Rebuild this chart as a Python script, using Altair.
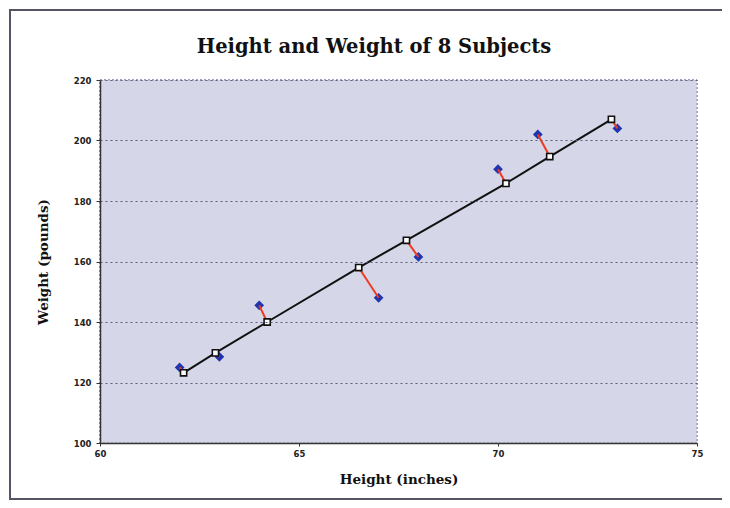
import altair as alt
import pandas as pd

# Observed subjects
height = [62, 63, 64, 67, 68, 70, 71, 73]
weight = [125, 128.5, 145.5, 148, 161.5, 190.5, 202, 204]
# Points on the fitted line that each subject is joined to
line_h = [62.1, 62.9, 64.2, 66.5, 67.7, 70.2, 71.3, 72.85]
line_w = [123.2, 129.8, 140.0, 158.0, 167.0, 185.8, 194.7, 207.0]

x_ticks = [60, 65, 70, 75]
y_ticks = [100, 120, 140, 160, 180, 200, 220]
title_text = ["Height and Weight of 8 Subjects"]

df = pd.DataFrame({"h": height, "w": weight, "ph": line_h, "pw": line_w,
                   "i": list(range(len(height)))})
tdf = pd.DataFrame({"t": title_text})

W, H = 597, 363
PL, PT = 92, 72

xs = alt.Scale(domain=[60, 75], nice=False, zero=False)
ys = alt.Scale(domain=[100, 220], nice=False, zero=False)

xax = alt.Axis(values=x_ticks, grid=False, title="Height (inches)", zindex=1,
               titleFont="DejaVu Serif", titleFontSize=13.5, titleFontWeight="bold",
               titleColor="#111", titleY=29, titleBaseline="top",
               labelFont="DejaVu Sans", labelFontSize=8.5, labelFontWeight="bold",
               labelColor="#222", labelPadding=3, labelFlush=False,
               tickSize=3, tickColor="#333",
               domainColor="#333", domainWidth=1.5)
yax = alt.Axis(values=y_ticks, grid=True, gridColor="#5a5f7a", gridDash=[2, 3],
               gridWidth=1, title="Weight (pounds)", zindex=1,
               titleFont="DejaVu Serif", titleFontSize=13.5, titleFontWeight="bold",
               titleColor="#111", titleX=-50, titleY=H / 2, titleAngle=-90,
               titleBaseline="bottom",
               labelFont="DejaVu Sans", labelFontSize=8.5, labelFontWeight="bold",
               labelColor="#222", labelPadding=5, labelFlush=False,
               tickSize=4, tickColor="#333",
               domainColor="#333", domainWidth=1.5)

base = alt.Chart(df)

frame = base.mark_rect(fill="white", stroke="#555566", strokeWidth=2).encode(
    x=alt.value(10 - 8 - PL), x2=alt.value(745 - 8 - PL),
    y=alt.value(10 - 8 - PT), y2=alt.value(499 - 8 - PT))

bg = base.mark_rect(fill="#d5d6e7", stroke="#9a9cc0", strokeDash=[2, 2],
                    strokeWidth=1).encode(
    x=alt.value(0), x2=alt.value(W), y=alt.value(0), y2=alt.value(H))

title = alt.Chart(tdf).mark_text(font="DejaVu Serif", fontSize=19.5, fontWeight="bold",
                                 color="#111", align="center", baseline="middle").encode(
    text="t:N", x=alt.value(374 - 8 - PL), y=alt.value(47 - 8 - PT))

diam = base.mark_point(shape="diamond", filled=True, color="#1f35b0",
                       size=95, opacity=1).encode(
    x=alt.X("h:Q", scale=xs, axis=xax),
    y=alt.Y("w:Q", scale=ys, axis=yax))

resid = base.mark_rule(color="#ee3b22", strokeWidth=2).encode(
    x="h:Q", y="w:Q", x2="ph:Q", y2="pw:Q")

line = base.mark_line(color="#111111", strokeWidth=2).encode(
    x="ph:Q", y="pw:Q", order="i:O")

sq = base.mark_point(shape="square", filled=True, fill="white", stroke="#111111",
                     strokeWidth=1.6, size=38, opacity=1).encode(
    x="ph:Q", y="pw:Q")

chart = alt.layer(frame, bg, title, diam, resid, line, sq).properties(
    width=W, height=H,
    autosize=alt.AutoSizeParams(type="none"),
    padding={"left": PL, "top": PT, "right": 25, "bottom": 57},
).configure_view(stroke=None).configure(background="white")

chart.save("out.html", embed_options={"renderer": "svg", "actions": False})
